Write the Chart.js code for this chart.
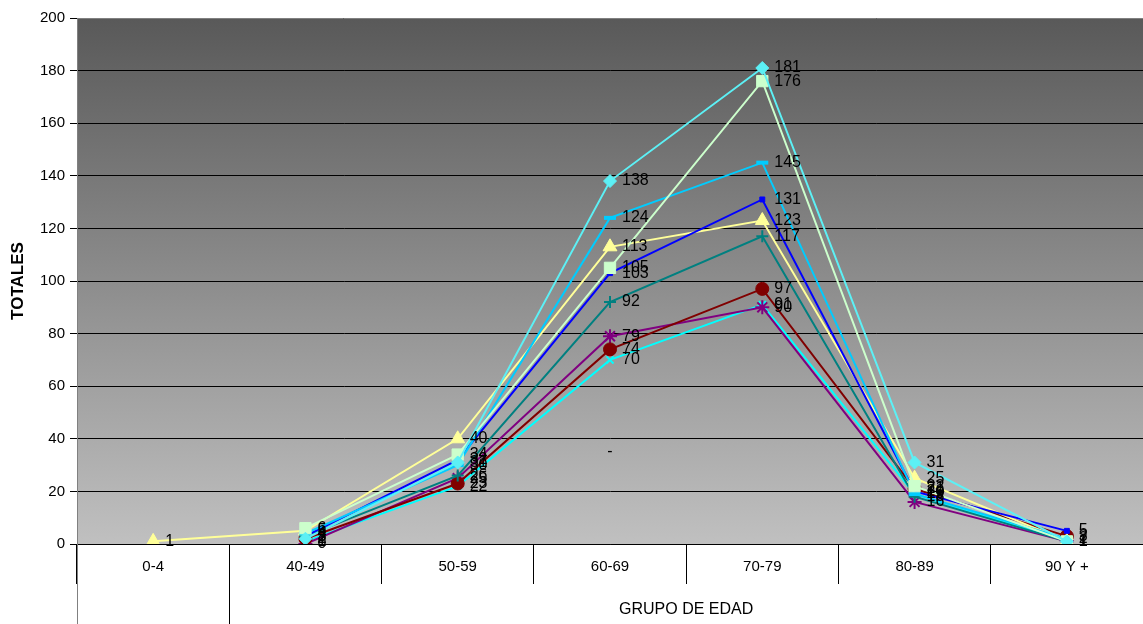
<!DOCTYPE html>
<html>
<head>
<meta charset="utf-8">
<script src="https://cdn.jsdelivr.net/npm/chart.js@4/dist/chart.umd.min.js"></script>
<style>
html,body{margin:0;padding:0;background:#fff;}
#wrap{width:1143px;height:624px;}
</style>
</head>
<body>
<div id="wrap"><canvas id="c" width="1143" height="624"></canvas></div>
<script>
const categories = ['0-4', '40-49', '50-59', '60-69', '70-79', '80-89', '90 Y +'];
const yTicks = [0, 20, 40, 60, 80, 100, 120, 140, 160, 180, 200];
const groupLabel = 'GRUPO DE EDAD';
const yTitle = 'TOTALES';

const serieA = [null, 2, 31, 138, 181, 31, 1];   // light cyan diamond
const serieB = [null, 6, 34, 105, 176, 22, 1];   // light green square
const serieC = [null, 4, 30, 124, 145, 19, 2];   // sky blue dash
const serieD = [null, 3, 32, 103, 131, 20, 5];   // blue
const serieE = [1, 5, 40, 113, 123, 25, 1];      // yellow triangle
const serieF = [null, 3, 26, 92, 117, 18, 1];    // teal plus
const serieG = [null, 2, 23, 74, 97, 21, 3];     // dark red circle
const serieH = [null, 0, 25, 79, 90, 16, 1];     // purple star
const serieI = [null, 1, 22, 70, 91, 19, 1];     // cyan x
const dashNote = {category: '60-69', value: 35, text: '-'};

const FONT = "'Liberation Sans', Arial, sans-serif";

function ds(data, color, style, radius, bw, fill) {
  return {
    data: data,
    borderColor: color,
    backgroundColor: color,
    pointBackgroundColor: fill || color,
    pointBorderColor: color,
    pointStyle: style,
    pointRadius: radius,
    pointHoverRadius: radius,
    pointBorderWidth: bw,
    borderWidth: 2,
    tension: 0,
    spanGaps: false
  };
}

const datasets = [
  ds(serieA, '#5CF0F5', 'rectRot', 6.5, 1),
  ds(serieB, '#CCFFCC', 'rect', 8, 1),
  ds(serieC, '#00CCFF', 'line', 6, 4),
  ds(serieD, '#0000FF', 'rect', 3.5, 1),
  ds(serieE, '#FFFF99', 'triangle', 8, 1),
  ds(serieF, '#008080', 'cross', 6, 2),
  ds(serieG, '#800000', 'circle', 6.5, 1),
  ds(serieH, '#800080', 'star', 7, 2),
  ds(serieI, '#00FFFF', 'crossRot', 5, 2)
];

const bgPlugin = {
  id: 'bg',
  beforeDraw(chart) {
    const {ctx, chartArea: a} = chart;
    const g = ctx.createLinearGradient(0, a.top, 0, a.bottom);
    g.addColorStop(0, '#595959');
    g.addColorStop(1, '#C0C0C0');
    ctx.save();
    ctx.fillStyle = g;
    ctx.fillRect(a.left, a.top, a.right - a.left, a.bottom - a.top);
    ctx.restore();
  },
  afterDraw(chart) {
    const {ctx, chartArea: a, scales} = chart;
    const x = scales.x;
    const b1 = (x.getPixelForValue(0) + x.getPixelForValue(1)) / 2;
    ctx.save();
    ctx.strokeStyle = '#000';
    ctx.lineWidth = 1;
    ctx.beginPath();
    ctx.moveTo(Math.round(b1) + 0.5, a.bottom);
    ctx.lineTo(Math.round(b1) + 0.5, chart.height);
    ctx.stroke();
    ctx.strokeStyle = '#808080';
    ctx.beginPath();
    ctx.moveTo(Math.round(a.left) + 0.5, a.top);
    ctx.lineTo(Math.round(a.left) + 0.5, chart.height);
    ctx.moveTo(a.left, Math.round(a.top) + 0.5);
    ctx.lineTo(a.right, Math.round(a.top) + 0.5);
    ctx.stroke();
    ctx.fillStyle = '#000';
    ctx.font = '16px ' + FONT;
    ctx.textAlign = 'center';
    ctx.textBaseline = 'middle';
    ctx.fillText(groupLabel, (b1 + a.right) / 2, 610);
    ctx.restore();
  }
};

const labelPlugin = {
  id: 'vals',
  afterDatasetsDraw(chart) {
    const {ctx, scales} = chart;
    ctx.save();
    ctx.fillStyle = '#000';
    ctx.font = '16px ' + FONT;
    ctx.textAlign = 'left';
    ctx.textBaseline = 'middle';
    chart.data.datasets.forEach((d, i) => {
      const meta = chart.getDatasetMeta(i);
      meta.data.forEach((pt, j) => {
        const v = d.data[j];
        if (v === null || v === undefined) return;
        ctx.fillText(String(v), pt.x + 12, pt.y);
      });
    });
    const xi = categories.indexOf(dashNote.category);
    ctx.textAlign = 'center';
    ctx.fillText(dashNote.text, scales.x.getPixelForValue(xi), scales.y.getPixelForValue(dashNote.value));
    ctx.restore();
  }
};

new Chart(document.getElementById('c'), {
  type: 'line',
  data: { labels: categories, datasets: datasets },
  options: {
    responsive: false,
    animation: false,
    devicePixelRatio: 1,
    layout: { autoPadding: false, padding: { top: 18, right: 0, left: 0, bottom: 0 } },
    plugins: { legend: { display: false }, tooltip: { enabled: false } },
    scales: {
      x: {
        type: 'category',
        offset: true,
        grid: { offset: true, drawOnChartArea: false, tickLength: 40, color: '#000', lineWidth: 1 },
        border: { display: true, color: '#000', width: 1 },
        ticks: { color: '#000', font: { family: FONT, size: 15 }, padding: -26, maxRotation: 0, autoSkip: false },
        afterFit(s) { s.height = 80; s.paddingRight = 0; s.paddingLeft = 0; }
      },
      y: {
        min: 0, max: 200,
        afterBuildTicks(s) { s.ticks = yTicks.map(v => ({ value: v })); },
        grid: { color: '#000', lineWidth: 1, tickLength: 7, tickColor: '#000' },
        border: { display: true, color: '#808080', width: 1 },
        ticks: { color: '#000', font: { family: FONT, size: 15 }, padding: 5 },
        title: { display: true, text: yTitle, color: '#000', font: { family: FONT, size: 17, weight: 'bold' }, padding: { top: 8, bottom: 0 } },
        afterFit(s) { s.width = 77; s.paddingTop = 0; s.paddingBottom = 0; }
      }
    }
  },
  plugins: [bgPlugin, labelPlugin]
});
</script>
</body>
</html>
